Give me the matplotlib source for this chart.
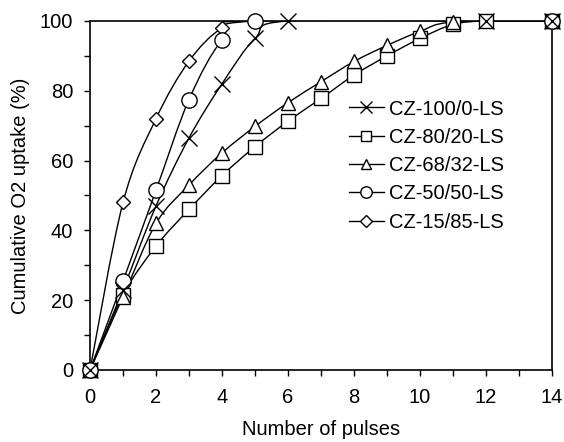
import matplotlib
matplotlib.use('Agg')
import matplotlib.pyplot as plt  # noqa: E402
from matplotlib.lines import Line2D  # noqa: E402
from matplotlib.path import Path  # noqa: E402
from matplotlib.patches import PathPatch  # noqa: E402
from matplotlib.ticker import MultipleLocator  # noqa: E402

plt.rcParams['font.family'] = ['Liberation Sans', 'DejaVu Sans']
plt.rcParams['font.size'] = 14.5

# Datos
labels = ['CZ-100/0-LS', 'CZ-80/20-LS', 'CZ-68/32-LS', 'CZ-50/50-LS', 'CZ-15/85-LS']

pulses_100 = [0, 1, 2, 3, 4, 5, 6, 12, 14]
uptake_100 = [0, 23, 47, 66.5, 82, 95, 100, 100, 100]

pulses_80 = [0, 1, 2, 3, 4, 5, 6, 7, 8, 9, 10, 11, 12, 14]
uptake_80 = [0, 21.5, 35.5, 46, 55.7, 64, 71.3, 77.8, 84.5, 90, 95, 99, 100, 100]

pulses_68 = [0, 1, 2, 3, 4, 5, 6, 7, 8, 9, 10, 11, 14]
uptake_68 = [0, 21, 42, 53, 62.2, 69.8, 76.6, 82.6, 88.4, 93, 97, 99.7, 100]

pulses_50 = [0, 1, 2, 3, 4, 5, 14]
uptake_50 = [0, 25.5, 51.5, 77.5, 94.5, 100, 100]

pulses_15 = [0, 1, 2, 3, 4, 5, 14]
uptake_15 = [0, 48, 72, 88.5, 98, 100, 100]

series = [
    (pulses_100, uptake_100, 'x'),
    (pulses_80, uptake_80, 's'),
    (pulses_68, uptake_68, '^'),
    (pulses_50, uptake_50, 'o'),
    (pulses_15, uptake_15, 'D'),
]
marker_sizes = {'x': 12, 's': 10.5, '^': 10.5, 'o': 11, 'D': 7.5}
# el circulo queda encima del rombo y la X encima de todo (como en el original)
marker_z = {'x': 3.6, 's': 3.1, '^': 3.2, 'o': 3.5, 'D': 3.4}


def smooth_path(xs, ys):
    """Curva suavizada tipo Excel (Bezier cubica por tramos)."""
    pts = list(zip(xs, ys))
    verts = [pts[0]]
    codes = [Path.MOVETO]
    n = len(pts)
    for i in range(n - 1):
        p0 = pts[i - 1] if i > 0 else pts[i]
        p1 = pts[i]
        p2 = pts[i + 1]
        p3 = pts[i + 2] if i + 2 < n else pts[i + 1]
        c1 = (p1[0] + (p2[0] - p0[0]) / 6, p1[1] + (p2[1] - p0[1]) / 6)
        c2 = (p2[0] - (p3[0] - p1[0]) / 6, p2[1] - (p3[1] - p1[1]) / 6)
        verts += [c1, c2, p2]
        codes += [Path.CURVE4] * 3
    return Path(verts, codes)


fig = plt.figure(figsize=(5.64, 4.42), dpi=100)
ax = fig.add_axes([0.1596, 0.1629, 0.8191, 0.7896])

handles = []
for (xs, ys, mk), lab in zip(series, labels):
    ax.add_patch(PathPatch(smooth_path(xs, ys), facecolor='none',
                           edgecolor='black', linewidth=1.0, zorder=2))
    ax.plot(xs, ys, linestyle='none', marker=mk, markersize=marker_sizes[mk],
            markerfacecolor='white', markeredgecolor='black',
            markeredgewidth=1.0, clip_on=False, zorder=marker_z[mk])
    handles.append(Line2D([], [], color='black', linewidth=1.0, marker=mk,
                          markersize=marker_sizes[mk] * 0.75,
                          markerfacecolor='white', markeredgecolor='black',
                          label=lab))

ax.set_xlim(0, 14)
ax.set_ylim(0, 100)
ax.xaxis.set_major_locator(MultipleLocator(2))
ax.xaxis.set_minor_locator(MultipleLocator(1))
ax.yaxis.set_major_locator(MultipleLocator(20))
ax.yaxis.set_minor_locator(MultipleLocator(10))
ax.tick_params(which='both', direction='out', length=4, width=1.0)
ax.tick_params(axis='x', pad=9)
ax.tick_params(axis='y', pad=8)
for s in ax.spines.values():
    s.set_linewidth(1.2)

ax.set_xlabel('Number of pulses', labelpad=9)
ax.set_ylabel('Cumulative O2 uptake (%)', labelpad=7)

ax.legend(handles=handles, loc='upper left', bbox_to_anchor=(0.56, 0.775),
          frameon=False, borderpad=0, handlelength=1.75, handletextpad=0.25,
          labelspacing=0.46, borderaxespad=0)

fig.savefig('out.png', dpi=100)
